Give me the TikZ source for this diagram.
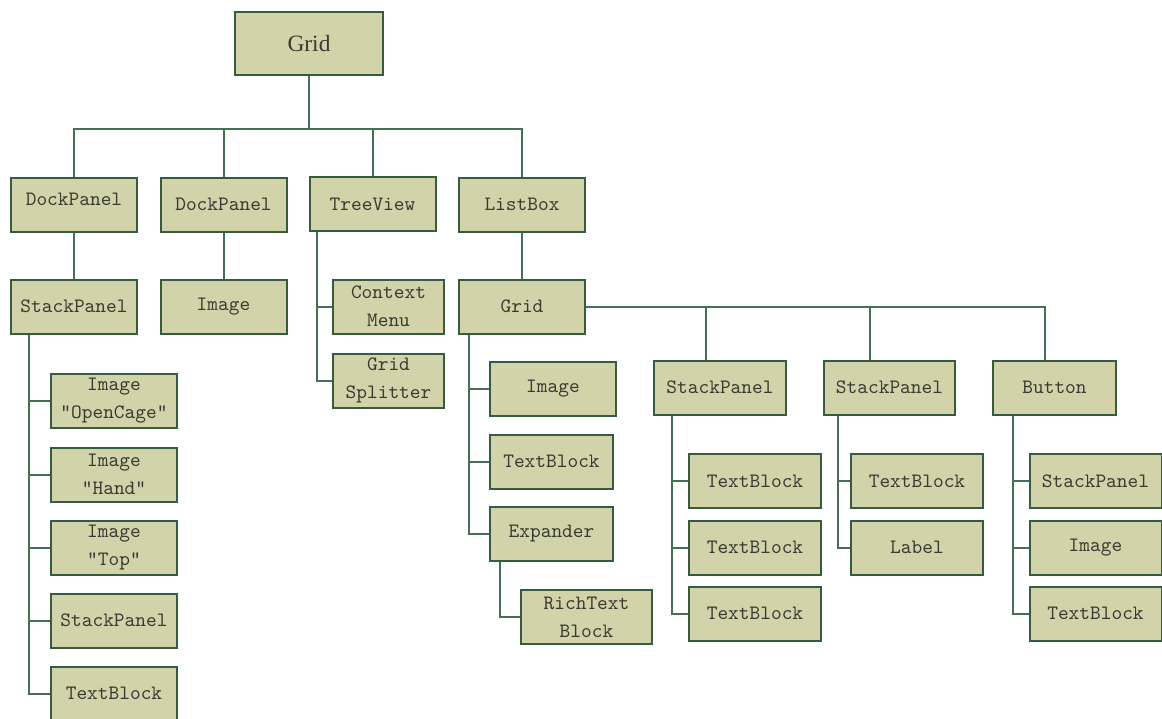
\documentclass[tikz,border=0pt]{standalone}
\usepackage{fontspec}
\setmainfont{Liberation Serif}
\definecolor{boxfill}{RGB}{211,211,170}
\definecolor{boxline}{RGB}{52,92,62}
\definecolor{linecol}{RGB}{70,112,86}
\definecolor{ink}{RGB}{58,58,52}

\tikzstyle{box} = [draw=boxline, fill=boxfill, line width=1pt, inner sep=0pt, minimum width=63pt, minimum height=27pt, text=ink, align=center, font=\ttfamily\fontsize{10.2}{14}\selectfont]
\tikzstyle{wire} = [draw=linecol, line width=1pt]

\begin{document}
\begin{tikzpicture}[x=0.5pt,y=-0.5pt]
\useasboundingbox (0,0) rectangle (1162,718);
\clip (0,0) rectangle (1162,718);
\node[box, minimum width=74pt, minimum height=31.5pt, font=\rmfamily\fontsize{11.7}{14}\selectfont] (grid) at (309,43.5) {Grid};
\node[box] (dockA) at (74,204.5) {\raisebox{5pt}{DockPanel}};
\node[box] (dockB) at (223.5,204.5) {DockPanel};
\node[box] (tree) at (372.5,204) {TreeView};
\node[box] (list) at (522,204.5) {ListBox};
\node[box] (stackA) at (74,306.5) {StackPanel};
\node[box] (imgA) at (223.5,306.5) {Image};
\node[box, minimum width=55.5pt] (menu) at (388.5,306.5) {Context\\Menu};
\node[box, minimum width=55.5pt] (split) at (388.5,380.5) {Grid\\Splitter};
\node[box] (gridB) at (522,306.5) {Grid};
\node[box] (open) at (114,400.5) {Image\\"OpenCage"};
\node[box] (hand) at (114,474.5) {Image\\"Hand"};
\node[box] (top) at (114,548) {Image\\"Top"};
\node[box] (stackB) at (114,620.5) {StackPanel};
\node[box] (textA) at (114,693.5) {TextBlock};
\node[box] (imgB) at (553,388.5) {Image};
\node[box, minimum width=61.5pt] (textB) at (551.5,461.5) {TextBlock};
\node[box, minimum width=61.5pt] (expand) at (551.5,534) {Expander};
\node[box, minimum width=65.5pt] (rich) at (586.5,617) {RichText\\Block};
\node[box, minimum width=66pt] (stackC) at (720,387.5) {StackPanel};
\node[box, minimum width=66pt] (textC) at (755,481) {TextBlock};
\node[box, minimum width=66pt] (textD) at (755,547.5) {TextBlock};
\node[box, minimum width=66pt] (textE) at (755,613.5) {TextBlock};
\node[box, minimum width=65.5pt] (stackD) at (889.5,387.5) {StackPanel};
\node[box, minimum width=66pt] (textF) at (917,481) {TextBlock};
\node[box, minimum width=66pt] (label) at (917,547.5) {Label};
\node[box, minimum width=61.5pt] (button) at (1054.5,387.5) {Button};
\node[box, minimum width=66pt] (stackE) at (1095.5,481) {StackPanel};
\node[box, minimum width=66pt] (imgC) at (1095.5,548) {Image};
\node[box, minimum width=66pt] (textG) at (1095.5,613.5) {TextBlock};

\coordinate (bus) at (309,129);
\draw[wire] (grid) -- (bus);
\draw[wire] (dockA.north) |- (bus) -| (list.north);
\draw[wire] (dockB.north) -- (dockB.north |- bus);
\draw[wire] (tree.north) -- (tree.north |- bus);
\draw[wire] (dockA) -- (stackA);
\draw[wire] (dockB) -- (imgA);
\draw[wire] (list) -- (gridB);
\draw[wire] ([xshift=4pt]tree.south west) |- (menu.west);
\draw[wire] ([xshift=4pt]tree.south west) |- (split.west);
\draw[wire] ([xshift=9.5pt]stackA.south west) |- (open.west);
\draw[wire] ([xshift=9.5pt]stackA.south west) |- (hand.west);
\draw[wire] ([xshift=9.5pt]stackA.south west) |- (top.west);
\draw[wire] ([xshift=9.5pt]stackA.south west) |- (stackB.west);
\draw[wire] ([xshift=9.5pt]stackA.south west) |- (textA.west);
\draw[wire] ([xshift=5.5pt]gridB.south west) |- (imgB.west);
\draw[wire] ([xshift=5.5pt]gridB.south west) |- (textB.west);
\draw[wire] ([xshift=5.5pt]gridB.south west) |- (expand.west);
\draw[wire] ([xshift=5.5pt]expand.south west) |- (rich.west);
\coordinate (tapC) at ([xshift=-7pt]stackC.north);
\coordinate (tapD) at ([xshift=-10pt]stackD.north);
\draw[wire] (gridB.east) -| ([xshift=-5pt]button.north);
\draw[wire] (tapC) -- (tapC |- gridB.east);
\draw[wire] (tapD) -- (tapD |- gridB.east);
\draw[wire] ([xshift=9.5pt]stackC.south west) |- (textC.west);
\draw[wire] ([xshift=9.5pt]stackC.south west) |- (textD.west);
\draw[wire] ([xshift=9.5pt]stackC.south west) |- (textE.west);
\draw[wire] ([xshift=7.5pt]stackD.south west) |- (textF.west);
\draw[wire] ([xshift=7.5pt]stackD.south west) |- (label.west);
\draw[wire] ([xshift=10.5pt]button.south west) |- (stackE.west);
\draw[wire] ([xshift=10.5pt]button.south west) |- (imgC.west);
\draw[wire] ([xshift=10.5pt]button.south west) |- (textG.west);
\end{tikzpicture}
\end{document}
